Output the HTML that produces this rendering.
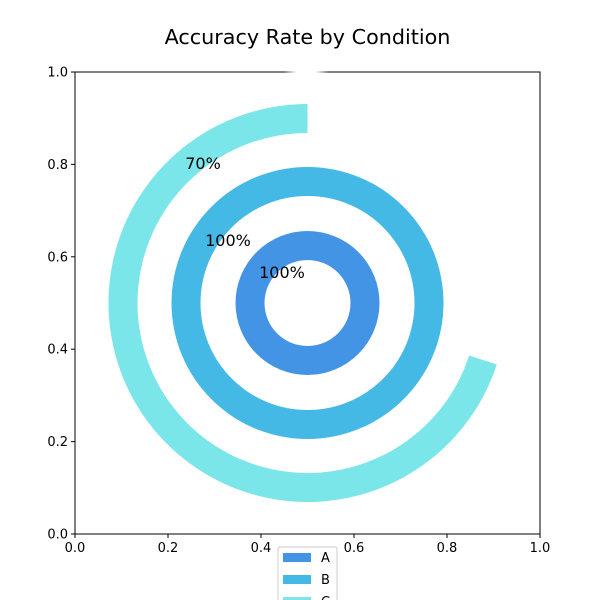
<!DOCTYPE html>
<html><head><meta charset="utf-8"><style>
html,body{margin:0;padding:0;background:#fff;}
svg{display:block;font-family:"DejaVu Sans","Liberation Sans",sans-serif;}
</style></head><body>
<svg id="chart" width="600" height="600" viewBox="0 0 600 600" xmlns="http://www.w3.org/2000/svg">
<defs><linearGradient id="gapg" x1="0" x2="1"><stop offset="0" stop-color="#fff" stop-opacity="0"/><stop offset="0.3" stop-color="#fff"/><stop offset="0.7" stop-color="#fff"/><stop offset="1" stop-color="#fff" stop-opacity="0"/></linearGradient></defs>
<text x="307.5" y="44" font-size="20.7" text-anchor="middle">Accuracy Rate by Condition</text>
<g id="rings"></g>
<rect x="75" y="72" width="465" height="462" fill="none" stroke="#000" stroke-width="1"/>
<rect x="283" y="70" width="46" height="4" fill="url(#gapg)"/>
<g id="axes"></g>
<g id="legend">
<rect x="278" y="547" width="59" height="60" fill="#fff" stroke="#ccc" rx="2"/>
</g>
</svg>
<script>
const categories = ["A","B","C"];
const values = [100, 100, 70];
const xTicks = ["0.0","0.2","0.4","0.6","0.8","1.0"];
const yTicks = ["0.0","0.2","0.4","0.6","0.8","1.0"];
const colors = ["#4394e5","#45b9e6","#7ae6e9"];
const NS="http://www.w3.org/2000/svg";
const X0=75,X1=540,Y0=534,Y1=72;
const sx=v=>X0+v*(X1-X0), sy=v=>Y0-v*(Y0-Y1);
const cx=sx(0.5), cy=sy(0.5);
const outerR=[72,136,199], width=29;
function mk(tag,attrs,parent){const e=document.createElementNS(NS,tag);for(const k in attrs)e.setAttribute(k,attrs[k]);parent.appendChild(e);return e;}
const rings=document.getElementById('rings');
function pt(r,a){return [cx+r*Math.cos(a), cy-r*Math.sin(a)];}
categories.forEach((c,i)=>{
  const ro=outerR[i], ri=ro-width, frac=values[i]/100;
  let el;
  if(frac>=0.9999){
    el=mk('path',{d:`M${cx-ro},${cy}a${ro},${ro} 0 1,0 ${2*ro},0a${ro},${ro} 0 1,0 ${-2*ro},0Z M${cx-ri},${cy}a${ri},${ri} 0 1,1 ${2*ri},0a${ri},${ri} 0 1,1 ${-2*ri},0Z`,fill:colors[i],'fill-rule':'evenodd'},rings);
  } else {
    const a0=Math.PI/2, a1=a0+frac*2*Math.PI, large=frac>0.5?1:0;
    const p0=pt(ro,a0),p1=pt(ro,a1),q1=pt(ri,a1),q0=pt(ri,a0);
    el=mk('path',{d:`M${p0[0]},${p0[1]}A${ro},${ro} 0 ${large},0 ${p1[0]},${p1[1]}L${q1[0]},${q1[1]}A${ri},${ri} 0 ${large},1 ${q0[0]},${q0[1]}Z`,fill:colors[i]},rings);
  }
  
  
});
const labelPos=[[282,278],[228,246],[203,169]];
categories.forEach((c,i)=>{
  const t=mk('text',{x:labelPos[i][0],y:labelPos[i][1],'font-size':'16','text-anchor':'middle'},rings);
  t.textContent=values[i]+'%';
  
  
});
const axes=document.getElementById('axes');
xTicks.forEach(v=>{const x=sx(+v);
  const l=mk('line',{x1:x,x2:x,y1:Y0,y2:Y0+4,stroke:'#000'},axes);
  
  
  const t=mk('text',{x:x,y:Y0+18,'font-size':'13','text-anchor':'middle'},axes);t.textContent=v;
  
  
});
yTicks.forEach(v=>{const y=sy(+v);
  const l=mk('line',{x1:X0-4,x2:X0,y1:y,y2:y,stroke:'#000'},axes);
  
  
  const t=mk('text',{x:X0-7,y:y+4.5,'font-size':'13','text-anchor':'end'},axes);t.textContent=v;
  
  
});
const lg=document.getElementById('legend');
categories.forEach((c,i)=>{const y=553+i*22;
  const r=mk('rect',{x:283,y:y,width:28,height:9,fill:colors[i]},lg);
  
  
  const t=mk('text',{x:321,y:y+9,'font-size':'13'},lg);t.textContent=c;
  
  
});
</script>
</body></html>
